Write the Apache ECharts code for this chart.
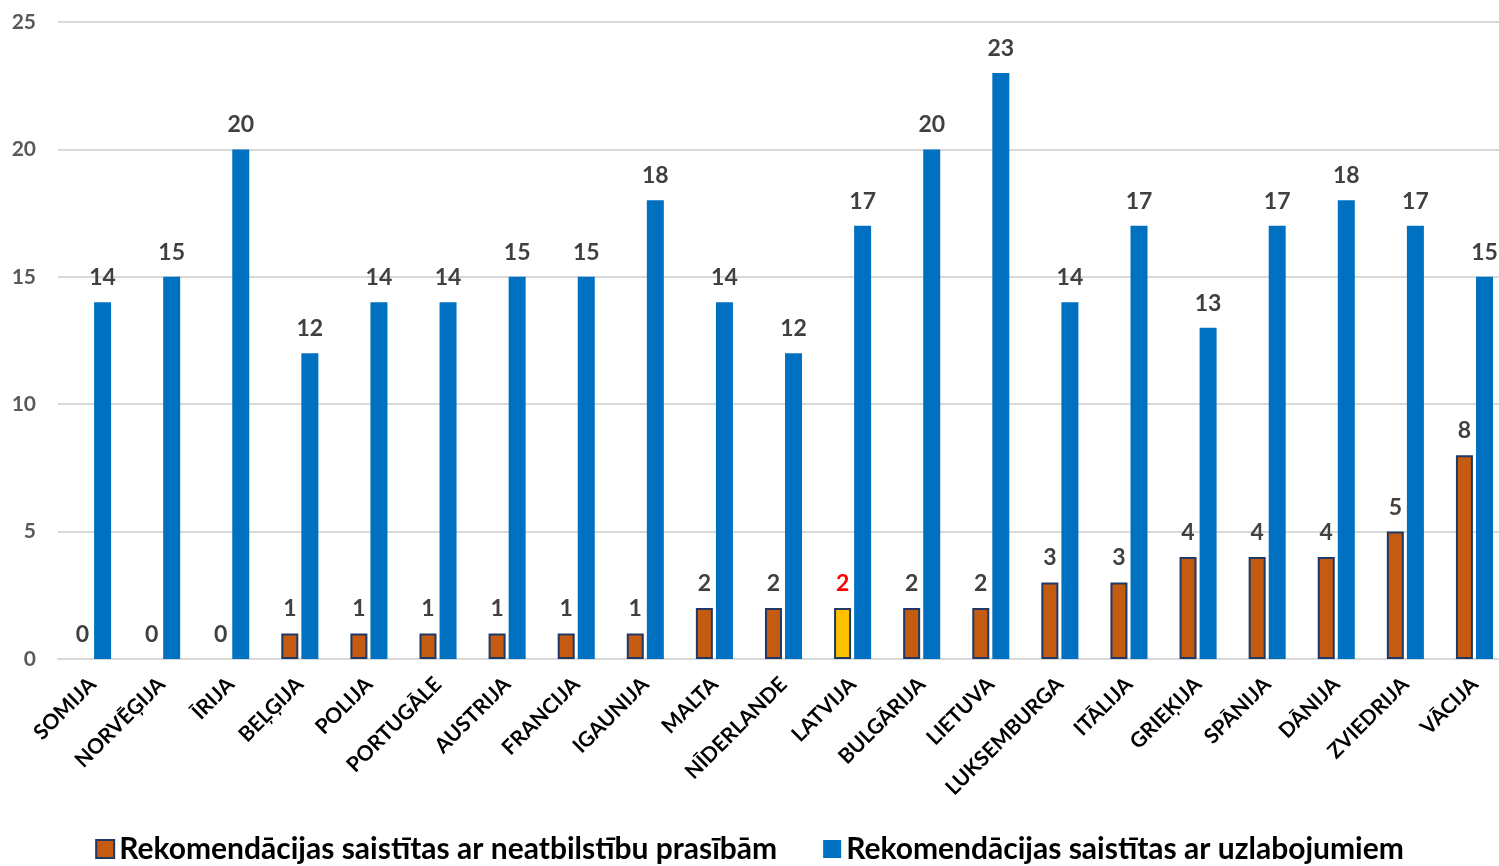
<!DOCTYPE html>
<html><head><meta charset="utf-8">
<script src="https://cdn.jsdelivr.net/npm/echarts@6/dist/echarts.min.js"></script>
<style>html,body{margin:0;padding:0;background:#fff}#c{width:1499px;height:866px}</style>
</head><body><div id="c"></div>
<script>
var categories = ['SOMIJA','NORVĒĢIJA','ĪRIJA','BEĻĢIJA','POLIJA','PORTUGĀLE','AUSTRIJA','FRANCIJA','IGAUNIJA','MALTA','NĪDERLANDE','LATVIJA','BULGĀRIJA','LIETUVA','LUKSEMBURGA','ITĀLIJA','GRIEĶIJA','SPĀNIJA','DĀNIJA','ZVIEDRIJA','VĀCIJA'];
var nonCompliance = [0,0,0,1,1,1,1,1,1,2,2,2,2,2,3,3,4,4,4,5,8];
var improvements = [14,15,20,12,14,14,15,15,18,14,12,17,20,23,14,17,13,17,18,17,15];
var seriesNames = ['Rekomendācijas saistītas ar neatbilstību prasībām','Rekomendācijas saistītas ar uzlabojumiem'];
var highlightCategory = 'LATVIJA';

var font = 'Lato, "Open Sans", sans-serif';
var chart = echarts.init(document.getElementById('c'));
var orangeData = nonCompliance.map(function(v,i){
  var item = {value:v};
  if (categories[i] === highlightCategory) {
    item.itemStyle = {color:'#FFC000'};
    item.label = {color:'#FF0000'};
  }
  if (v === 0) {
    item.itemStyle = {borderWidth:0};
  }
  return item;
});
chart.setOption({
  animation:false,
  textStyle:{fontFamily:font},
  grid:{left:58,width:1451,top:22,bottom:207,containLabel:false,outerBoundsMode:'none'},
  legend:{
    top:829,left:'center',itemGap:46,itemWidth:18,itemHeight:18,icon:'rect',
    textStyle:{fontFamily:font,fontWeight:'bold',fontSize:30,color:'#000'},
    data:seriesNames
  },
  xAxis:{
    type:'category',data:categories,
    axisLine:{lineStyle:{color:'#D9D9D9',width:2}},
    axisTick:{show:false},
    axisLabel:{rotate:45,interval:0,fontFamily:font,fontWeight:'bold',fontSize:21,color:'#000',margin:22}
  },
  yAxis:{
    type:'value',min:0,max:25,interval:5,
    axisLine:{show:false},axisTick:{show:false},
    splitLine:{lineStyle:{color:'#D9D9D9',width:2}},
    axisLabel:{fontFamily:font,fontWeight:'bold',fontSize:21,color:'#595959',margin:22}
  },
  series:[
    {name:seriesNames[0],type:'bar',data:orangeData,barWidth:17,barGap:'18%',
     itemStyle:{color:'#C55A11',borderColor:'#1F3864',borderWidth:2},
     label:{show:true,position:'top',distance:13,fontFamily:font,fontWeight:'bold',fontSize:23,color:'#404040'}},
    {name:seriesNames[1],type:'bar',data:improvements,barWidth:17,
     itemStyle:{color:'#0070C0'},
     label:{show:true,position:'top',distance:13,fontFamily:font,fontWeight:'bold',fontSize:23,color:'#404040'}}
  ]
});
</script></body></html>
